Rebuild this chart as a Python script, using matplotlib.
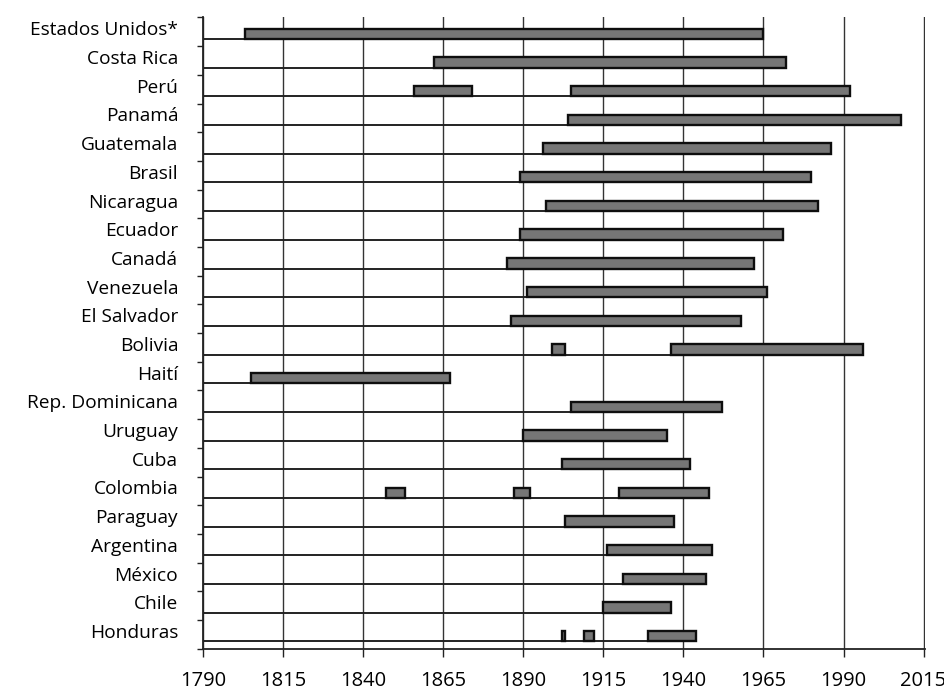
import numpy as np
import matplotlib
matplotlib.use("Agg")
import matplotlib.pyplot as plt

# paises, de arriba hacia abajo
paises = ["Estados Unidos*", "Costa Rica", "Perú", "Panamá", "Guatemala", "Brasil",
          "Nicaragua", "Ecuador", "Canadá", "Venezuela", "El Salvador", "Bolivia",
          "Haití", "Rep. Dominicana", "Uruguay", "Cuba", "Colombia", "Paraguay",
          "Argentina", "México", "Chile", "Honduras"]

# periodos (inicio, fin) de cada pais
periodos = [
    [(1803, 1965)],
    [(1862, 1972)],
    [(1856, 1874), (1905, 1992)],
    [(1904, 2008)],
    [(1896, 1986)],
    [(1889, 1980)],
    [(1897, 1982)],
    [(1889, 1971)],
    [(1885, 1962)],
    [(1891, 1966)],
    [(1886, 1958)],
    [(1899, 1903), (1936, 1996)],
    [(1805, 1867)],
    [(1905, 1952)],
    [(1890, 1935)],
    [(1902, 1942)],
    [(1847, 1853), (1887, 1892), (1920, 1948)],
    [(1903, 1937)],
    [(1916, 1949)],
    [(1921, 1947)],
    [(1915, 1936)],
    [(1902, 1903), (1909, 1912), (1929, 1944)],
]

anios = np.arange(1790, 2016, 25)

plt.rcParams['font.family'] = ['Open Sans', 'DejaVu Sans']

fig = plt.figure(figsize=(9.45, 6.99), dpi=100)
ax = fig.add_axes([0.215, 0.072, 0.764, 0.903])

n = len(paises)
alto = 0.36
for k, (pais, per) in enumerate(zip(paises, periodos)):
    base = n - 1 - k + 0.25
    fin_max = max(f for _, f in per)
    ax.hlines(base, 1790, fin_max, color='#222222', lw=1.4, zorder=2)
    for ini, fin in per:
        ax.barh(base, fin - ini, left=ini, height=alto, align='edge',
                color='#767676', edgecolor='#0e0e0e', linewidth=1.7, zorder=3)

ax.set_xlim(1790, 2015.5)
ax.set_ylim(0, n)

ax.set_xticks(anios)
ax.set_xticklabels([str(a) for a in anios], fontsize=14.5)
ax.tick_params(axis='x', length=6, width=1, color='#222222', pad=10)
ax.grid(axis='x', color='#333333', lw=1.0, zorder=1)

ax.set_yticks([n - 1 - k + 0.62 for k in range(n)])
ax.set_yticklabels(paises, fontsize=13.8)
ax.tick_params(axis='y', which='major', length=0, pad=18)
ax.set_yticks(np.arange(0, n + 1), minor=True)
ax.tick_params(axis='y', which='minor', length=4, width=1, color='#222222')

for lado in ['top', 'right']:
    ax.spines[lado].set_visible(False)
for lado in ['left', 'bottom']:
    ax.spines[lado].set_color('#222222')
    ax.spines[lado].set_linewidth(1.3)

fig.savefig("out.png", dpi=100)
